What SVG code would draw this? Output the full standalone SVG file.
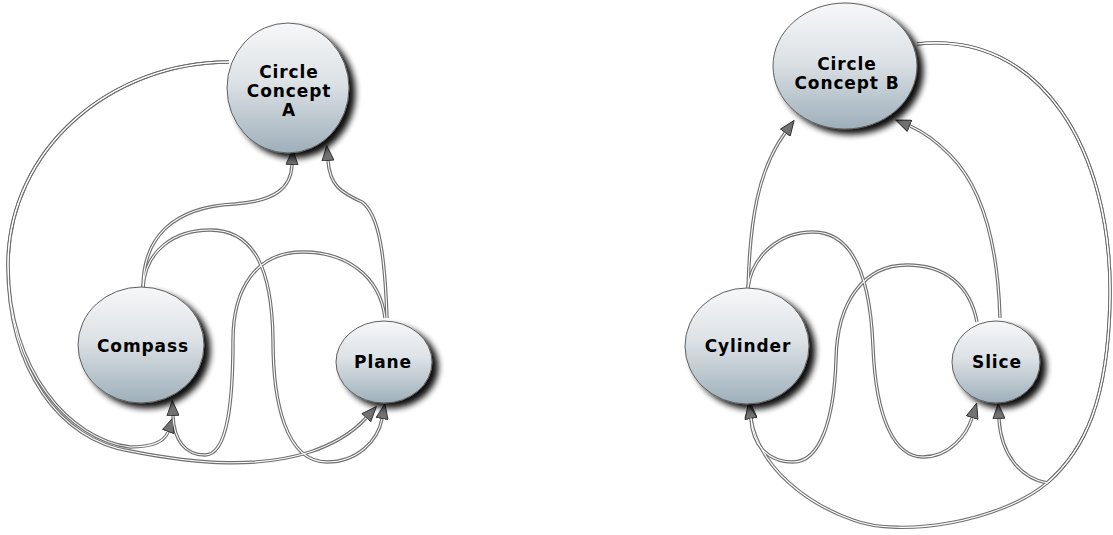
<svg xmlns="http://www.w3.org/2000/svg" xmlns:xlink="http://www.w3.org/1999/xlink" width="1113" height="535" viewBox="0 0 1113 535">
  <defs>
    <linearGradient id="nodeFill" x1="0" y1="0" x2="0" y2="1">
      <stop offset="0" stop-color="#f6f7f8"/>
      <stop offset="0.45" stop-color="#dde2e6"/>
      <stop offset="1" stop-color="#9eafba"/>
    </linearGradient>
    <filter id="nodeShadow" x="-30%" y="-30%" width="170%" height="170%">
      <feGaussianBlur in="SourceAlpha" stdDeviation="3"/>
      <feOffset dx="6" dy="5" result="blur"/>
      <feComponentTransfer in="blur" result="shade">
        <feFuncA type="linear" slope="0.95"/>
      </feComponentTransfer>
      <feMerge>
        <feMergeNode in="shade"/>
        <feMergeNode in="SourceGraphic"/>
      </feMerge>
    </filter>
    <marker id="arrow" viewBox="0 0 16 13" refX="0" refY="6.5" markerWidth="16" markerHeight="13" markerUnits="userSpaceOnUse" orient="auto">
      <path d="M0.5,0.5 L15.5,6.5 L0.5,12.5 Z" fill="#727272" stroke="#2a2a2a" stroke-width="0.9" stroke-linejoin="round"/>
    </marker>

    <!-- connector routes, drawn twice below (casing + core) -->
    <path id="e1" d="M143,288 C143,240 170,207 235,204 C275,201 291,188 292,165"/>
    <path id="e2" d="M387,318 C385,260 380,215 362,202 C340,192 330,185 328,161"/>
    <path id="e3" d="M143,288 C145,250 175,230 210,230 C255,230 272,270 273,340 C273,400 285,462 327,462 C358,462 378,440 382,419"/>
    <path id="e4" d="M385,318 C380,275 345,252 303,252 C255,252 233,290 233,340 C233,400 228,455 205,455 C185,455 174,440 173,416"/>
    <path id="e5" d="M229,62 C110,62 8,150 8,265 C8,370 70,440 130,447 C150,447 164,443 168,432"/>
    <path id="e6" d="M229,62 C110,62 8,150 8,265 C8,370 60,440 130,451 C200,465 260,468 310,452 C340,442 356,429 366,418"/>
    <path id="f1" d="M748,288 C750,220 758,170 785,133"/>
    <path id="f2" d="M748,288 C752,255 780,232 813,232 C850,232 870,270 873,347 C876,420 895,457 923,457 C950,457 967,434 972,418"/>
    <path id="f3" d="M977,322 C970,285 945,265 907,265 C865,265 837,300 836,360 C834,420 820,462 793,462 C768,462 752,445 751,418"/>
    <path id="f4" d="M1000,318 C998,250 985,190 950,155 C935,140 922,131 910,126"/>
    <path id="f5" d="M917,44 C1040,30 1113,150 1110,300 C1108,400 1085,450 1047,483 C1000,522 900,538 853,520 C810,505 760,470 751,419"/>
    <path id="f6" d="M917,44 C1040,30 1113,150 1110,300 C1108,400 1085,450 1047,483 C1020,478 1001,454 999,419"/>
  </defs>
  <style>
    .node ellipse { fill: url(#nodeFill); stroke: #5f5f5f; stroke-width: 1; filter: url(#nodeShadow); }
    .node text { font-family: "DejaVu Sans", Verdana, sans-serif; font-weight: bold; font-size: 17px; letter-spacing: 0.9px; fill: #000; text-anchor: middle; }
    .wire { fill: none; stroke: #707070; stroke-width: 3.4; stroke-linecap: butt; stroke-linejoin: round; marker-end: url(#arrow); }
    .core { fill: none; stroke: #ffffff; stroke-width: 1.1; stroke-linecap: butt; stroke-linejoin: round; }
  </style>

  <g id="connectors">
    <g class="wire">
      <use href="#e1"/><use href="#e2"/><use href="#e3"/><use href="#e4"/><use href="#e5"/><use href="#e6"/>
      <use href="#f1"/><use href="#f2"/><use href="#f3"/><use href="#f4"/><use href="#f5"/><use href="#f6"/>
    </g>
    <g class="core">
      <use href="#e1"/><use href="#e2"/><use href="#e3"/><use href="#e4"/><use href="#e5"/><use href="#e6"/>
      <use href="#f1"/><use href="#f2"/><use href="#f3"/><use href="#f4"/><use href="#f5"/><use href="#f6"/>
    </g>
  </g>

  <g id="node-circle-a" class="node">
    <ellipse cx="288" cy="88" rx="61" ry="65"/>
    <text x="289" y="78">Circle</text>
    <text x="289" y="97">Concept</text>
    <text x="289" y="116">A</text>
  </g>
  <g id="node-compass" class="node">
    <ellipse cx="141" cy="345" rx="63" ry="58"/>
    <text x="143" y="352">Compass</text>
  </g>
  <g id="node-plane" class="node">
    <ellipse cx="384" cy="362" rx="48" ry="41"/>
    <text x="383" y="368">Plane</text>
  </g>
  <g id="node-circle-b" class="node">
    <ellipse cx="845" cy="66" rx="72" ry="63"/>
    <text x="847" y="70">Circle</text>
    <text x="847" y="89">Concept B</text>
  </g>
  <g id="node-cylinder" class="node">
    <ellipse cx="747" cy="346" rx="62" ry="58"/>
    <text x="748" y="352">Cylinder</text>
  </g>
  <g id="node-slice" class="node">
    <ellipse cx="996" cy="362" rx="44" ry="41"/>
    <text x="997" y="368">Slice</text>
  </g>
</svg>
